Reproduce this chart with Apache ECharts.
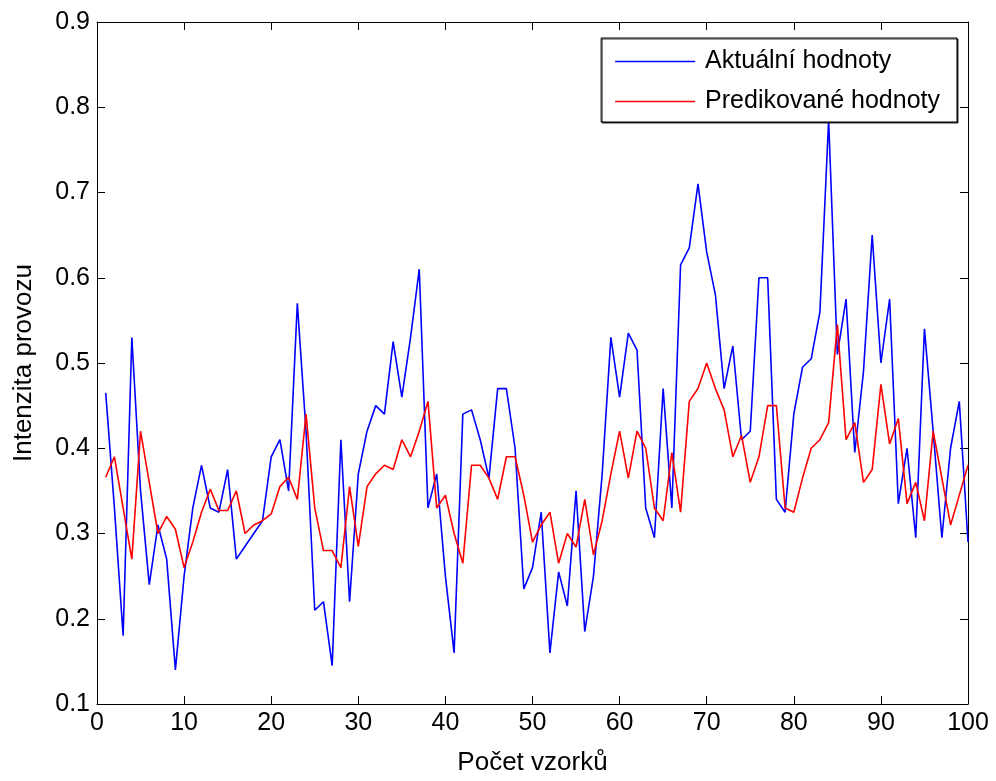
<!DOCTYPE html>
<html>
<head>
<meta charset="utf-8">
<title>Intenzita provozu</title>
<script src="https://cdn.jsdelivr.net/npm/echarts@6/dist/echarts.min.js"></script>
<style>
  html, body { margin: 0; padding: 0; background: #fff; overflow: hidden; }
  #chart { width: 996px; height: 781px; }
</style>
</head>
<body>
<div id="chart"></div>
<script>
// Sample index 1..100
const samples = Array.from({ length: 100 }, (_, i) => i + 1);

// Measured (actual) traffic intensity
const actualValues = [
  0.465, 0.33, 0.18, 0.53, 0.35, 0.24, 0.31, 0.27, 0.14, 0.25,
  0.33, 0.38, 0.33, 0.325, 0.375, 0.27, 0.285, 0.30, 0.315, 0.39,
  0.41, 0.35, 0.57, 0.42, 0.21, 0.22, 0.145, 0.41, 0.22, 0.37,
  0.42, 0.45, 0.44, 0.525, 0.46, 0.53, 0.61, 0.33, 0.37, 0.25,
  0.16, 0.44, 0.445, 0.41, 0.365, 0.47, 0.47, 0.40, 0.235, 0.26,
  0.325, 0.16, 0.255, 0.215, 0.35, 0.185, 0.25, 0.37, 0.53, 0.46,
  0.535, 0.515, 0.33, 0.295, 0.47, 0.33, 0.615, 0.635, 0.71, 0.63,
  0.58, 0.47, 0.52, 0.41, 0.42, 0.60, 0.60, 0.34, 0.325, 0.44,
  0.495, 0.505, 0.56, 0.785, 0.51, 0.575, 0.395, 0.49, 0.65, 0.50,
  0.575, 0.335, 0.40, 0.295, 0.54, 0.42, 0.295, 0.40, 0.455, 0.29
];

// Model output (predicted) traffic intensity
const predictedValues = [
  0.366, 0.39, 0.33, 0.27, 0.42, 0.36, 0.30, 0.32, 0.305, 0.26,
  0.29, 0.325, 0.352, 0.327, 0.327, 0.35, 0.30, 0.31, 0.315, 0.323,
  0.355, 0.366, 0.34, 0.44, 0.33, 0.28, 0.28, 0.26, 0.355, 0.285,
  0.355, 0.37, 0.38, 0.375, 0.41, 0.39, 0.42, 0.455, 0.33, 0.345,
  0.30, 0.265, 0.38, 0.38, 0.365, 0.34, 0.39, 0.39, 0.345, 0.29,
  0.31, 0.325, 0.265, 0.30, 0.284, 0.34, 0.275, 0.315, 0.37, 0.42,
  0.365, 0.42, 0.40, 0.33, 0.315, 0.395, 0.325, 0.455, 0.47, 0.50,
  0.47, 0.445, 0.39, 0.415, 0.36, 0.39, 0.45, 0.45, 0.33, 0.325,
  0.365, 0.40, 0.41, 0.43, 0.545, 0.41, 0.43, 0.36, 0.375, 0.475,
  0.405, 0.435, 0.335, 0.36, 0.315, 0.42, 0.365, 0.31, 0.345, 0.38
];

const seriesNames = ['Aktuální hodnoty', 'Predikované hodnoty'];
const seriesColors = ['#0000ff', '#ff0000'];
const xTitle = 'Počet vzorků';
const yTitle = 'Intenzita provozu';

const FONT = 'Liberation Sans, Arial, sans-serif';
const INK = '#000';
const TICK_FONT = 25;
const TITLE_FONT = 26;

const pairs = vals => samples.map((s, i) => [s, vals[i]]);

const frameAxis = {
  axisLine: { show: true, onZero: false, lineStyle: { color: INK, width: 1 } },
  axisTick: { show: true, inside: true, length: 8, lineStyle: { color: INK, width: 1 } },
  splitLine: { show: false }
};

const chart = echarts.init(document.getElementById('chart'), null, { renderer: 'canvas', width: 996, height: 781 });

chart.setOption({
  animation: false,
  backgroundColor: '#fff',
  grid: { left: 97, right: 28, top: 22, bottom: 73, containLabel: false },
  legend: {
    data: seriesNames.map((name, i) => ({
      name,
      icon: 'rect',
      itemStyle: { color: seriesColors[i], borderWidth: 0 }
    })),
    orient: 'vertical',
    right: 39,
    top: 38,
    itemWidth: 80,
    itemHeight: 1.5,
    itemGap: 15,
    padding: [11, 17, 8, 14],
    backgroundColor: '#fff',
    borderColor: INK,
    borderWidth: 1,
    shadowColor: 'rgba(0,0,0,0.8)',
    shadowBlur: 0,
    shadowOffsetX: 1,
    shadowOffsetY: 1,
    textStyle: {
      fontFamily: FONT, fontSize: TICK_FONT, color: INK,
      lineHeight: 25, padding: [0, 0, 0, 5]
    }
  },
  xAxis: [
    Object.assign({
      type: 'value', position: 'bottom', min: 0, max: 100, interval: 10,
      name: xTitle, nameLocation: 'middle', nameGap: 46,
      nameTextStyle: { fontFamily: FONT, fontSize: TITLE_FONT, color: INK },
      axisLabel: { show: true, margin: 7, fontFamily: FONT, fontSize: TICK_FONT, color: INK }
    }, frameAxis),
    Object.assign({
      type: 'value', position: 'top', min: 0, max: 100, interval: 10,
      axisLabel: { show: false }
    }, frameAxis)
  ],
  yAxis: [
    Object.assign({
      type: 'value', position: 'left', min: 0.1, max: 0.9, interval: 0.1,
      name: yTitle, nameLocation: 'middle', nameGap: 60, nameRotate: 90,
      nameTextStyle: { fontFamily: FONT, fontSize: TITLE_FONT, color: INK },
      axisLabel: {
        show: true, margin: 7, fontFamily: FONT, fontSize: TICK_FONT, color: INK,
        formatter: v => v.toFixed(1)
      }
    }, frameAxis),
    Object.assign({
      type: 'value', position: 'right', min: 0.1, max: 0.9, interval: 0.1,
      axisLabel: { show: false }
    }, frameAxis)
  ],
  series: [
    {
      name: seriesNames[0], type: 'line', xAxisIndex: 0, yAxisIndex: 0,
      data: pairs(actualValues), symbol: 'none', showSymbol: false,
      lineStyle: { color: seriesColors[0], width: 1.6 }, itemStyle: { color: seriesColors[0] }
    },
    {
      name: seriesNames[1], type: 'line', xAxisIndex: 0, yAxisIndex: 0,
      data: pairs(predictedValues), symbol: 'none', showSymbol: false,
      lineStyle: { color: seriesColors[1], width: 1.6 }, itemStyle: { color: seriesColors[1] }
    }
  ]
});
</script>
</body>
</html>
